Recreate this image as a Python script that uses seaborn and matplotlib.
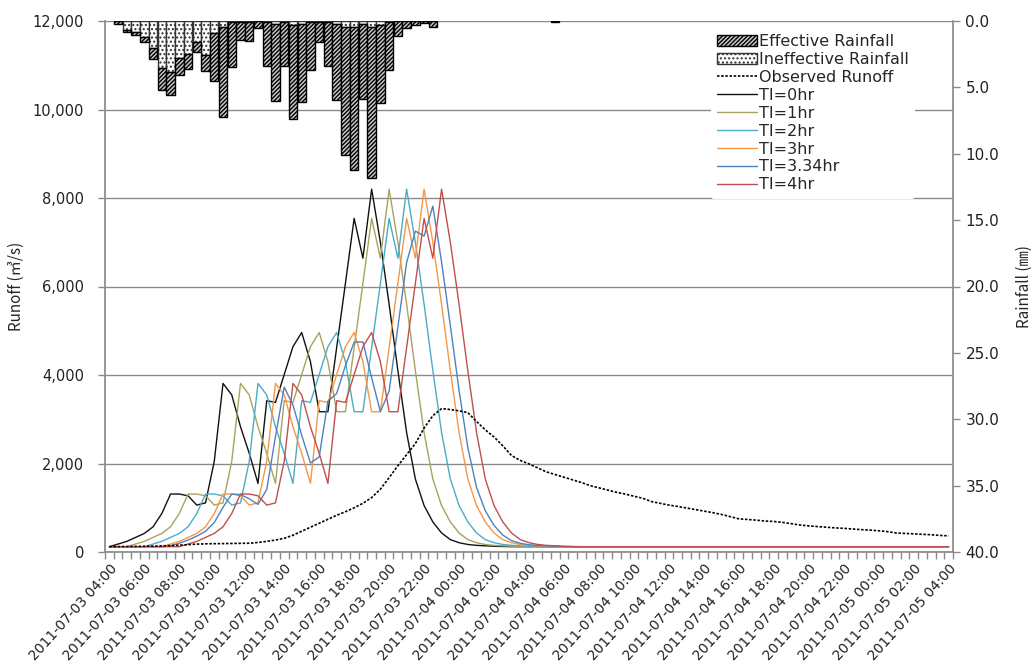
import matplotlib
matplotlib.use("Agg")
import matplotlib.pyplot as plt
import numpy as np
import pandas as pd
import seaborn as sns
from matplotlib.patches import Patch
from matplotlib.lines import Line2D

# ---------------- data ----------------
tick_labels = [
    "2011-07-03 04:00", "2011-07-03 06:00", "2011-07-03 08:00", "2011-07-03 10:00",
    "2011-07-03 12:00", "2011-07-03 14:00", "2011-07-03 16:00", "2011-07-03 18:00",
    "2011-07-03 20:00", "2011-07-03 22:00", "2011-07-04 00:00", "2011-07-04 02:00",
    "2011-07-04 04:00", "2011-07-04 06:00", "2011-07-04 08:00", "2011-07-04 10:00",
    "2011-07-04 12:00", "2011-07-04 14:00", "2011-07-04 16:00", "2011-07-04 18:00",
    "2011-07-04 20:00", "2011-07-04 22:00", "2011-07-05 00:00", "2011-07-05 02:00",
    "2011-07-05 04:00",
]
n_steps = 97          # half-hour steps
label_every = 4       # one label every 2 hours

observed = [120, 122, 124, 126, 130, 133, 138, 145, 155, 165, 178, 185, 188, 190, 193,
            196, 198, 215, 240, 270, 310, 380, 470, 560, 650, 740, 830, 910, 1000, 1100,
            1230, 1420, 1680, 1950, 2200, 2450, 2800, 3080, 3240, 3220, 3190, 3150, 2950,
            2760, 2600, 2400, 2180, 2070, 1990, 1900, 1810, 1750, 1690, 1630, 1570, 1500,
            1450, 1400, 1350, 1310, 1260, 1215, 1140, 1100, 1060, 1030, 995, 960, 925, 890,
            850, 800, 750, 735, 720, 700, 690, 670, 640, 610, 590, 575, 560, 545, 535, 520,
            505, 495, 480, 460, 430, 420, 410, 400, 390, 375, 365]

ti_0 = [120, 180, 240, 330, 420, 570, 870, 1310, 1310, 1270, 1060, 1110, 2050, 3810, 3550,
        2830, 2230, 1550, 3420, 3380, 4010, 4640, 4960, 4300, 3170, 3170, 4620, 6070, 7540,
        6640, 8200, 7000, 5600, 4100, 2700, 1650, 1050, 680, 430, 280, 210, 170, 150, 140,
        130, 125] + [120] * 51

ti_1 = [120, 120, 120, 180, 240, 330, 420, 570, 870, 1310, 1310, 1270, 1060, 1110, 2050,
        3810, 3550, 2830, 2230, 1550, 3420, 3380, 4010, 4640, 4960, 4300, 3170, 3170, 4620,
        6070, 7540, 6640, 8200, 7000, 5600, 4100, 2700, 1650, 1050, 680, 430, 280, 210, 170,
        150, 140, 130, 125] + [120] * 49

ti_2 = [120, 120, 120, 120, 120, 180, 240, 330, 420, 570, 870, 1310, 1310, 1270, 1060, 1110,
        2050, 3810, 3550, 2830, 2230, 1550, 3420, 3380, 4010, 4640, 4960, 4300, 3170, 3170,
        4620, 6070, 7540, 6640, 8200, 7000, 5600, 4100, 2700, 1650, 1050, 680, 430, 280, 210,
        170, 150, 140, 130, 125] + [120] * 47

ti_3 = [120, 120, 120, 120, 120, 120, 120, 180, 240, 330, 420, 570, 870, 1310, 1310, 1270,
        1060, 1110, 2050, 3810, 3550, 2830, 2230, 1550, 3420, 3380, 4010, 4640, 4960, 4300,
        3170, 3170, 4620, 6070, 7540, 6640, 8200, 7000, 5600, 4100, 2700, 1650, 1050, 680,
        430, 280, 210, 170, 150, 140, 130, 125] + [120] * 45

ti_334 = [120, 120, 120, 120, 120, 120, 120, 139, 199, 269, 359, 468, 666, 1011, 1310, 1297,
          1203, 1076, 1411, 2613, 3727, 3320, 2638, 2012, 2148, 3407, 3582, 4211, 4743, 4749,
          3938, 3170, 3634, 5084, 6540, 7252, 7139, 7816, 6552, 5120, 3652, 2364, 1458, 932,
          600, 382, 257, 197, 164, 147, 137, 128, 123] + [120] * 44

ti_4 = [120, 120, 120, 120, 120, 120, 120, 120, 120, 180, 240, 330, 420, 570, 870, 1310, 1310,
        1270, 1060, 1110, 2050, 3810, 3550, 2830, 2230, 1550, 3420, 3380, 4010, 4640, 4960,
        4300, 3170, 3170, 4620, 6070, 7540, 6640, 8200, 7000, 5600, 4100, 2700, 1650, 1050,
        680, 430, 280, 210, 170, 150, 140, 130, 125] + [120] * 43

series_names = ["TI=0hr", "TI=1hr", "TI=2hr", "TI=3hr", "TI=3.34hr", "TI=4hr"]
series_values = [ti_0, ti_1, ti_2, ti_3, ti_334, ti_4]
series_colors = ["#111111", "#A8A35E", "#4BACC6", "#F79646", "#4F81BD", "#C0504D"]

rain_step = list(range(1, 38)) + [51]
rain_ineff = [0.0, 0.68, 0.8, 1.18, 2.0, 3.55, 3.85, 2.8, 2.5, 1.6, 2.55, 0.93, 0.43, 0.1,
              0.05, 0.05, 0.0, 0.1, 0.2, 0.05, 0.3, 0.25, 0.05, 0.05, 0.05, 0.2, 0.45, 0.45,
              0.2, 0.45, 0.3, 0.05, 0.0, 0.0, 0.0, 0.0, 0.0, 0.0]
rain_eff = [0.2, 0.18, 0.26, 0.42, 0.88, 1.65, 1.7, 1.3, 1.15, 0.7, 1.2, 3.62, 6.77, 3.4,
            1.37, 1.45, 0.5, 3.27, 5.83, 3.37, 7.1, 5.88, 3.65, 1.51, 3.37, 5.76, 9.65, 10.75,
            5.68, 11.4, 5.9, 3.65, 1.1, 0.5, 0.33, 0.15, 0.45, 0.1]

# ---------------- style ----------------
sns.set_theme(style="white")
plt.rcParams["font.family"] = ["DejaVu Sans", "Noto Sans CJK KR"]
plt.rcParams["hatch.linewidth"] = 1.0
grid_col = "#8a8a8a"
dot_style = (0, (1.5, 1.0))

fig = plt.figure(figsize=(10.36, 6.72), dpi=100)
ax = fig.add_axes([105 / 1036, 1 - 552 / 672, 848 / 1036, 531 / 672])
ax2 = ax.twinx()

steps = np.arange(n_steps)
df = pd.DataFrame({
    "step": np.tile(steps, len(series_names)),
    "runoff": np.concatenate([np.asarray(v, float) for v in series_values]),
    "series": np.repeat(series_names, n_steps),
})

# observed runoff
sns.lineplot(x=steps, y=observed, ax=ax, color="black", linewidth=1.2,
             linestyle=dot_style, legend=False, zorder=3)
# simulated runoff
sns.lineplot(data=df, x="step", y="runoff", hue="series", hue_order=series_names,
             palette=dict(zip(series_names, series_colors)), linewidth=1.0,
             ax=ax, legend=False, estimator=None, sort=False, zorder=2)

ax.set_xlim(-0.5, n_steps - 0.5)
ax.set_ylim(0, 12000)
ax.set_yticks(np.arange(0, 12001, 2000))
ax.yaxis.set_major_formatter(matplotlib.ticker.FuncFormatter(lambda v, p: f"{int(v):,}"))
ax.yaxis.grid(True, color=grid_col, linewidth=1.0)
ax.xaxis.grid(False)
ax.set_axisbelow(True)

ax.set_xticks(steps[::label_every])
ax.set_xticklabels(tick_labels, rotation=48, ha="right", rotation_mode="anchor",
                   fontsize=10, color="#222222")
ax.set_xticks(np.arange(-0.5, n_steps, 1.0), minor=True)
ax.tick_params(axis="x", which="major", bottom=True, length=0, pad=7)
ax.tick_params(axis="x", which="minor", bottom=True, length=5, width=1, color=grid_col,
               direction="out")
ax.tick_params(axis="y", which="major", left=True, length=5, width=1, color=grid_col,
               direction="out", labelsize=10.5, labelcolor="#222222", pad=10)
ax.set_xlabel("")
ax.set_ylabel("Runoff (㎥/s)", fontsize=11, family=["Noto Sans CJK KR", "DejaVu Sans"])
ax.yaxis.set_label_coords(-0.095, 0.5)

for sp in ["top"]:
    ax.spines[sp].set_visible(False)
    ax2.spines[sp].set_visible(False)
for sp in ["left", "bottom", "right"]:
    ax.spines[sp].set_color(grid_col)
    ax2.spines[sp].set_color(grid_col)
ax.spines["right"].set_visible(False)
ax2.spines["left"].set_visible(False)
ax2.spines["bottom"].set_visible(False)

# rainfall bars (inverted right axis)
ax2.bar(rain_step, rain_ineff, width=0.96, bottom=0, facecolor="white",
        edgecolor="#333333", hatch="....", linewidth=1.0, zorder=3)
ax2.bar(rain_step, rain_eff, width=0.96, bottom=rain_ineff, facecolor="#c8c8c8",
        edgecolor="black", hatch="////////", linewidth=1.0, zorder=3)
ax2.set_ylim(40, 0)
ax2.set_yticks(np.arange(0, 40.1, 5))
ax2.yaxis.set_major_formatter(matplotlib.ticker.FormatStrFormatter("%.1f"))
ax2.tick_params(axis="y", right=True, length=5, width=1, color=grid_col, direction="out",
                labelsize=11, labelcolor="#222222", pad=4)
ax2.set_ylabel("Rainfall (㎜)", fontsize=11, rotation=90,
               family=["Noto Sans CJK KR", "DejaVu Sans"])
ax2.yaxis.set_label_coords(1.074, 0.5)
ax2.grid(False)

handles = [
    Patch(facecolor="#c8c8c8", edgecolor="black", hatch="////////", label="Effective Rainfall"),
    Patch(facecolor="white", edgecolor="#333333", hatch="....", label="Ineffective Rainfall"),
    Line2D([], [], color="black", linewidth=1.2, linestyle=dot_style, label="Observed Runoff"),
] + [Line2D([], [], color=c, linewidth=1.0, label=n) for n, c in zip(series_names, series_colors)]

leg = ax2.legend(handles=handles, loc="upper right", bbox_to_anchor=(0.955, 0.987),
                 frameon=True, fontsize=11.5, handlelength=2.5, handletextpad=0.1,
                 labelspacing=0.18, borderpad=0.4, borderaxespad=0)
leg.get_frame().set_facecolor("white")
leg.get_frame().set_edgecolor("none")
leg.get_frame().set_alpha(1.0)
leg.set_zorder(10)

fig.savefig("out.png", dpi=100)
